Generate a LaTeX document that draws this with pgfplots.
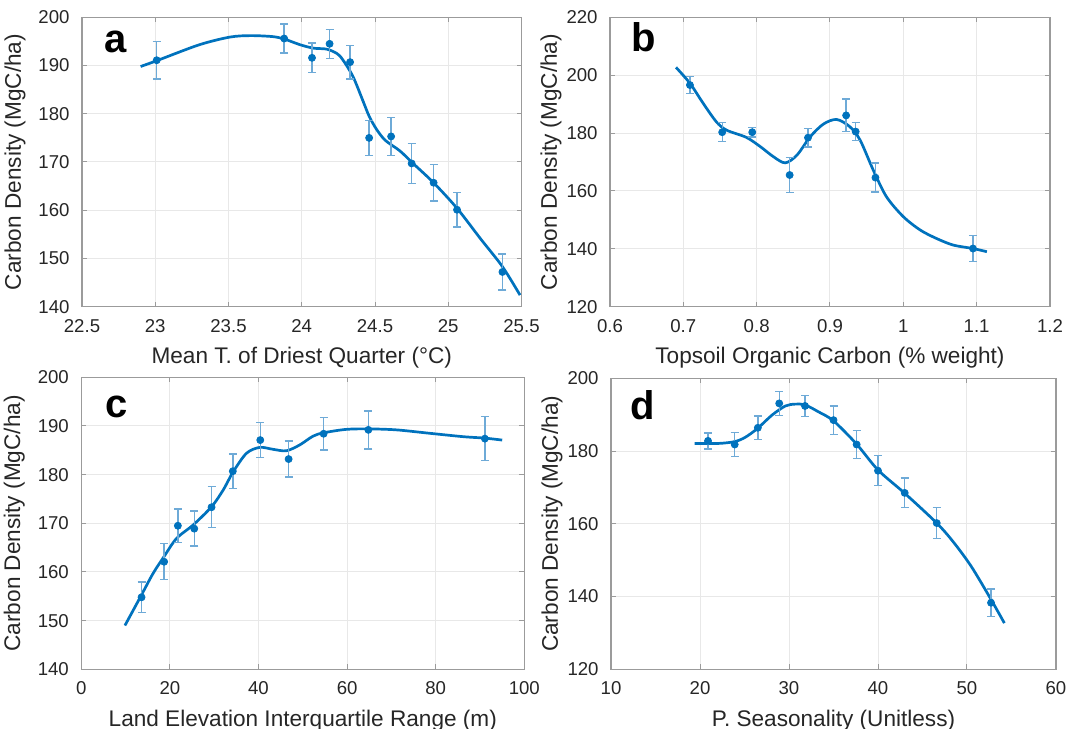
\documentclass[border=0pt]{standalone}
\usepackage{pgfplots}
\pgfplotsset{compat=1.18}
\usepackage{fontspec}
\setmainfont{Liberation Sans}
\definecolor{mblue}{RGB}{0,114,189}
\definecolor{ebar}{RGB}{110,170,215}
\definecolor{boxgray}{RGB}{155,155,155}
\definecolor{gridgray}{RGB}{232,232,232}
\definecolor{txt}{RGB}{38,38,38}
\tikzset{letter/.style={anchor=base west, inner sep=0pt, font=\fontsize{20}{24}\selectfont\bfseries}}
\pgfplotsset{
  panel/.style={
    scale only axis,
    axis line style={boxgray, line width=0.6pt},
    grid=major,
    major grid style={gridgray, line width=0.5pt},
    tick style={boxgray, line width=0.5pt},
    major tick length=2.5pt,
    tick align=inside,
    /pgf/number format/assume math mode=true,
    ticklabel style={font=\fontsize{9.3}{11}\selectfont, text=txt},
    xticklabel style={yshift=-2.8pt},
    yticklabel style={xshift=-2.7pt},
    label style={font=\fontsize{11.3}{13}\selectfont, text=txt, inner sep=0pt},
    xlabel style={at={(axis description cs:0.5,0)}, anchor=north, yshift=-20pt},
    ylabel={Carbon Density (MgC/ha)},
  },
  dots/.style={only marks, mark=*, mark size=1.75pt, color=mblue,
    error bars/.cd, y dir=both, y explicit,
    error bar style={ebar, line width=0.7pt},
    error mark options={ebar, rotate=90, mark size=2pt, line width=0.7pt}},
  fit/.style={smooth, mblue, line width=1.35pt, no marks},
}
\begin{document}
\begin{tikzpicture}
\useasboundingbox (0,0) rectangle (541.5pt,364.5pt);
% panel a
\begin{axis}[panel, at={(41pt,211.15pt)}, anchor=south west, width=219.75pt, height=144.7pt,
  xmin=22.5, xmax=25.5, ymin=140, ymax=200,
  xtick={22.5,23,23.5,24,24.5,25,25.5}, ytick={140,150,...,200},
  xlabel={Mean T. of Driest Quarter (°C)},
  ylabel style={at={(axis description cs:-0.1524,0.5)}, anchor=center}]
\addplot[fit] coordinates {(22.90,189.8) (23.01,191.0) (23.30,194.3) (23.51,195.9) (23.65,196.2) (23.80,196.0) (23.88,195.5) (23.99,194.3) (24.08,193.6) (24.17,193.4) (24.24,192.5) (24.28,191.2) (24.35,187.7) (24.42,182.5) (24.46,179.5) (24.51,176.8) (24.57,174.5) (24.67,172.3) (24.76,169.7) (24.90,165.7) (25.06,160.4) (25.22,154.1) (25.37,148.3) (25.49,142.4)};
\addplot[dots] table[x=x, y=y, y error=e] {
x y e
23.01 191.1 3.9
23.88 195.6 3.0
24.07 191.6 3.1
24.19 194.5 3.0
24.33 190.7 3.5
24.46 175.0 3.6
24.61 175.3 3.9
24.75 169.7 4.1
24.90 165.7 3.8
25.06 160.1 3.6
25.37 147.2 3.7
};
\node[letter] at (rel axis cs:0.05,0.88) {a};
\end{axis}
% panel b
\begin{axis}[panel, at={(305pt,211.15pt)}, anchor=south west, width=220pt, height=144.7pt,
  xmin=0.6, xmax=1.2, ymin=120, ymax=220,
  xtick={0.6,0.7,0.8,0.9,1,1.1,1.2}, ytick={120,140,...,220},
  xlabel={Topsoil Organic Carbon (\% weight)},
  ylabel style={at={(axis description cs:-0.134,0.5)}, anchor=center}]
\addplot[fit] coordinates {(0.690,202.7) (0.709,197.2) (0.727,190.3) (0.745,183.9) (0.759,181.0) (0.786,178.5) (0.805,175.3) (0.823,171.8) (0.839,169.7) (0.855,172.4) (0.873,178.7) (0.891,183.1) (0.909,184.7) (0.927,182.2) (0.941,177.6) (0.959,167.2) (0.977,158.0) (1.000,151.1) (1.023,146.5) (1.045,143.6) (1.068,141.3) (1.095,140.1) (1.114,139.0)};
\addplot[dots] table[x=x, y=y, y error=e] {
x y e
0.709 196.6 3.0
0.753 180.3 3.3
0.794 180.3 1.7
0.845 165.5 6.1
0.870 178.4 3.2
0.922 186.1 5.6
0.935 180.5 3.1
0.962 164.6 5.0
1.095 140.1 4.4
};
\node[letter] at (rel axis cs:0.049,0.881) {b};
\end{axis}
% panel c
\begin{axis}[panel, at={(40.65pt,29.85pt)}, anchor=south west, width=221.5pt, height=146pt,
  xmin=0, xmax=100, ymin=140, ymax=200,
  xtick={0,20,...,100}, ytick={140,150,...,200},
  xlabel={Land Elevation Interquartile Range (m)},
  ylabel style={at={(axis description cs:-0.151,0.5)}, anchor=center}]
\addplot[fit] coordinates {(9.85,149.0) (13.6,155.3) (16.2,159.7) (18.7,163.2) (21.5,166.9) (25.3,169.7) (29.4,173.4) (32.0,176.8) (34.3,180.6) (37.3,184.4) (40.3,185.6) (43.3,185.2) (46.3,184.9) (49.3,186.1) (52.3,187.9) (54.7,188.6) (59.8,189.3) (64.8,189.4) (71.1,189.2) (78.6,188.5) (86.2,187.8) (91.1,187.5) (95.0,187.1)};
\addplot[dots] table[x=x, y=y, y error=e] {
x y e
13.6 154.8 3.1
18.7 162.1 3.7
21.8 169.5 3.4
25.5 168.9 3.6
29.4 173.3 4.2
34.2 180.7 3.5
40.4 187.1 3.6
46.8 183.2 3.7
54.7 188.4 3.3
64.8 189.2 3.9
91.1 187.4 4.5
};
\node[letter] at (rel axis cs:0.0535,0.863) {c};
\end{axis}
% panel d
\begin{axis}[panel, at={(305.5pt,29.85pt)}, anchor=south west, width=222.5pt, height=145.5pt,
  xmin=10, xmax=60, ymin=120, ymax=200,
  xtick={10,20,...,60}, ytick={120,140,...,200},
  xlabel={P. Seasonality (Unitless)},
  ylabel style={at={(axis description cs:-0.1326,0.5)}, anchor=center}]
\addplot[fit] coordinates {(19.4,182.1) (22.1,182.1) (23.9,182.6) (25.1,183.8) (26.5,186.3) (28.1,189.9) (29.6,192.4) (30.7,192.9) (31.8,192.7) (33.3,190.8) (35.0,188.3) (37.6,181.9) (40.0,174.8) (43.0,168.4) (46.6,160.2) (48.5,154.9) (50.5,148.2) (52.7,139.2) (54.2,132.7)};
\addplot[dots] table[x=x, y=y, y error=e] {
x y e
20.9 182.8 2.2
23.9 181.8 3.3
26.5 186.4 3.2
28.9 193.1 3.3
31.8 192.4 2.9
35.0 188.5 3.9
37.6 181.8 3.9
40.0 174.6 4.1
43.0 168.5 4.1
46.6 160.2 4.3
52.7 138.3 3.8
};
\node[letter] at (rel axis cs:0.044,0.859) {d};
\end{axis}
\end{tikzpicture}
\end{document}
